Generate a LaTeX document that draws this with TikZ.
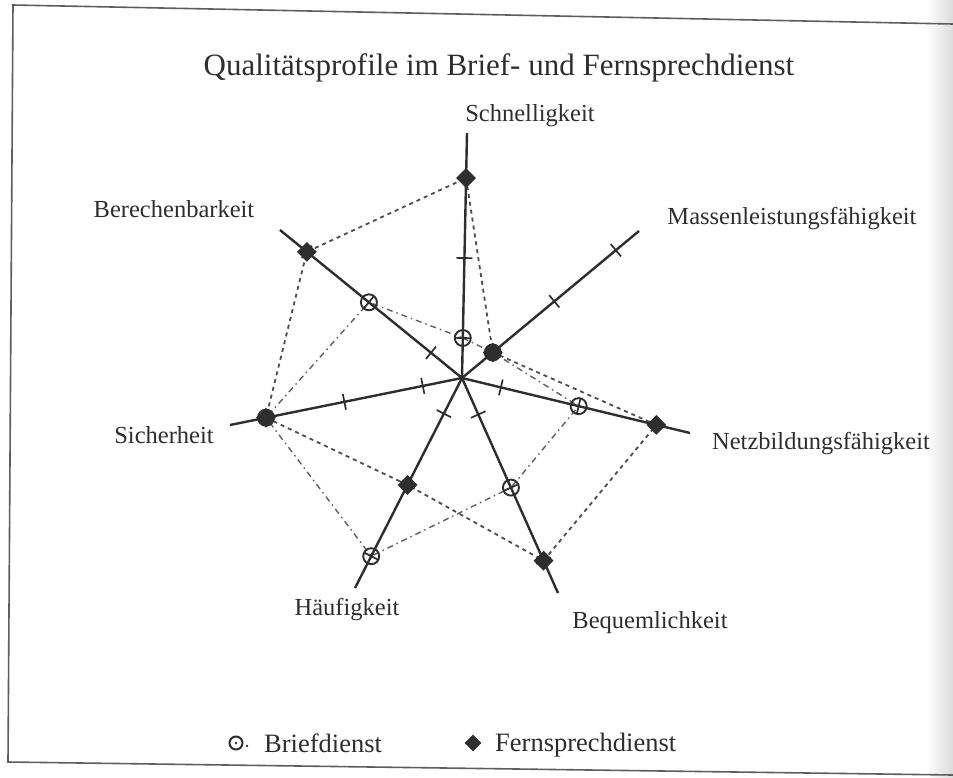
\documentclass[tikz,border=0pt]{standalone}
\usepackage{fontspec}
\setmainfont{Liberation Serif}
\usetikzlibrary{calc,shapes.geometric}
\definecolor{ink}{HTML}{2e2e2e}
\definecolor{framegray}{HTML}{5e5e5e}
\begin{document}
\begin{tikzpicture}[x=1pt,y=-1pt,
  spoke/.style={draw=ink,line width=2.4pt},
  tickmark/.style={draw=ink,line width=1.7pt},
  bmark/.style={circle,draw=ink,line width=1.9pt,minimum size=16pt,inner sep=0pt},
  fmark/.style={diamond,fill=ink,minimum width=20pt,minimum height=20pt,inner sep=0pt},
  briefline/.style={draw=gray!75!black,line width=1.4pt,dash pattern=on 6pt off 4pt on 1.5pt off 4pt},
  fernline/.style={draw=ink!85,line width=1.8pt,dash pattern=on 4pt off 4pt},
  lab/.style={text=ink,font=\fontsize{24.5}{28}\selectfont,inner sep=1pt},
  leg/.style={text=ink,font=\fontsize{26.5}{30}\selectfont,inner sep=1pt}]
\useasboundingbox (0,0) rectangle (953,777);
\fill[white] (0,0) rectangle (953,777);
\shade[left color=white,right color=gray!28] (926,0) rectangle (953,777);
% frame
\draw[framegray,line width=1.6pt] (953,24) -- (13,5) -- (8,762) -- (953,775);
% title
\node[text=ink,font=\fontsize{31}{36}\selectfont] (title) at (499,68) {Qualitätsprofile im Brief- und Fernsprechdienst};
% centre and axis ends
\coordinate (C) at (462,378);
\coordinate (eS) at (467,133);
\coordinate (eM) at (639,231);
\coordinate (eN) at (690,433);
\coordinate (eB) at (558,593);
\coordinate (eH) at (355,588);
\coordinate (eSi) at (230,425);
\coordinate (eBe) at (280,230);
% scale points (1, 3, 5)
\foreach \e in {eS,eM,eN,eB,eH,eSi,eBe} {
  \foreach \r [count=\k] in {40pt,120pt,200pt} {
    \coordinate (\e-\k) at ($(C)!\r!(\e)$);
  }
}
% profiles
\draw[briefline] (eS-1) -- (eM-1) -- (eN-2) -- (eB-2) -- (eH-3) -- (eSi-3) -- (eBe-2) -- cycle;
\draw[fernline] (eS-3) -- (eM-1) -- (eN-3) -- (eB-3) -- (eH-2) -- (eSi-3) -- (eBe-3) -- cycle;
% axes and ticks
\foreach \e in {eS,eM,eN,eB,eH,eSi,eBe} {
  \draw[spoke] (C) -- (\e);
  \foreach \k in {1,2,3} {
    \draw[tickmark] ($(\e-\k)!8pt!90:(\e)$) -- ($(\e-\k)!8pt!-90:(\e)$);
  }
}
% Briefdienst markers
\foreach \p in {eS-1,eM-1,eN-2,eB-2,eH-3,eSi-3,eBe-2} {
  \node[bmark] (b\p) at (\p) {};
}
% Fernsprechdienst markers
\foreach \p in {eS-3,eM-1,eN-3,eB-3,eH-2,eSi-3,eBe-3} {
  \node[fmark] (f\p) at (\p) {};
}
% axis labels
\node[lab] (lS) at (530,116) {Schnelligkeit};
\node[lab] (lM) at (792,219) {Massenleistungsfähigkeit};
\node[lab] (lN) at (821,444) {Netzbildungsfähigkeit};
\node[lab] (lB) at (650,623) {Bequemlichkeit};
\node[lab] (lH) at (347,610) {Häufigkeit};
\node[lab] (lSi) at (164,435) {Sicherheit};
\node[lab] (lBe) at (174,209) {Berechenbarkeit};
% legend
\node[circle,draw=ink,line width=2pt,minimum size=13pt,inner sep=0pt] (legb) at (236,743) {};
\fill[ink] (legb.center) circle (1.4pt);
\fill[ink] (247,746) circle (1.4pt);
\node[leg,anchor=west] (legbt) at (263,743) {Briefdienst};
\node[diamond,fill=ink,minimum width=17pt,minimum height=17pt,inner sep=0pt] (legf) at (473,743) {};
\node[leg,anchor=west] (legft) at (494,745) {Fernsprechdienst};
\end{tikzpicture}
\end{document}
